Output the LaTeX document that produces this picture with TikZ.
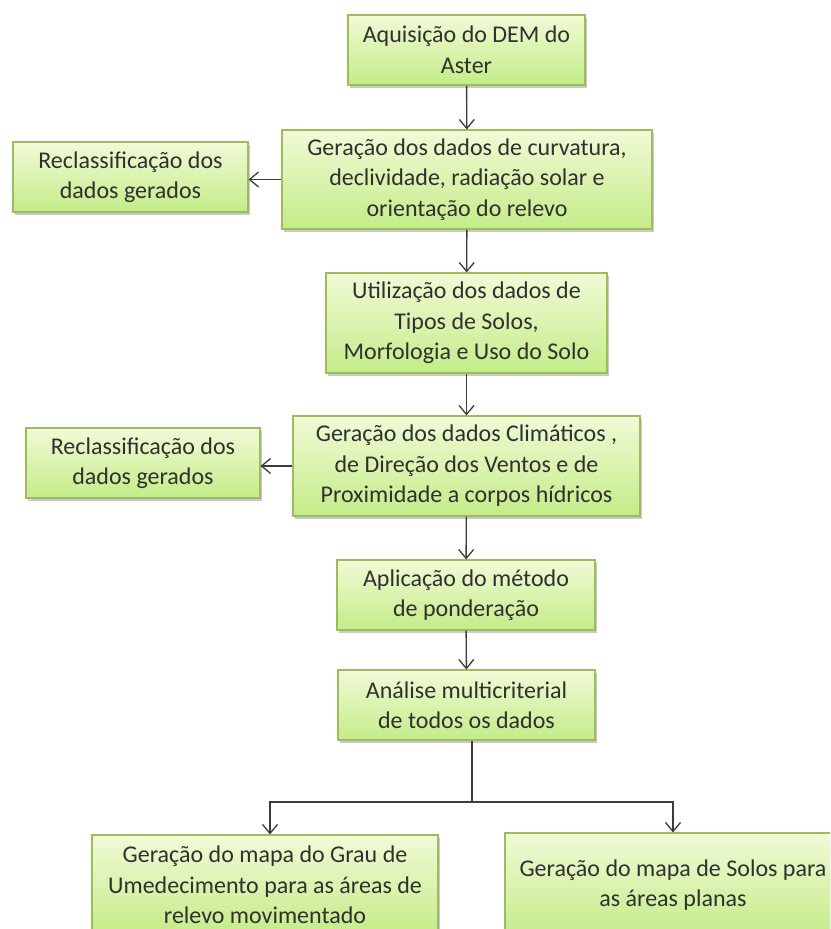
\documentclass[tikz,border=0pt]{standalone}
\usepackage{fontspec}
\setmainfont{Carlito}
\usetikzlibrary{arrows.meta,shadows}
\definecolor{boxtop}{HTML}{F1FAD6}
\definecolor{boxbot}{HTML}{C4EC88}
\definecolor{boxline}{HTML}{9CBC5E}
\definecolor{txt}{HTML}{303030}
\definecolor{arr}{HTML}{3C3C3C}
\tikzset{
  flowbox/.style={draw=boxline, line width=1.1pt, top color=boxtop, bottom color=boxbot,
    rectangle, align=center, inner sep=0pt, text=txt,
    font=\fontsize{24}{30.5}\selectfont,
    drop shadow={opacity=0.35, shadow xshift=2pt, shadow yshift=-2.5pt, fill=black!60}},
  conn/.style={draw=arr, line width=1.4pt, -{Straight Barb[length=9pt,width=15pt,line width=1.3pt]}},
  plainconn/.style={draw=arr, line width=1.4pt}
}
\begin{document}
\begin{tikzpicture}[x=1pt,y=-1pt]
\useasboundingbox (0,0) rectangle (830,929);
\clip (0,0) rectangle (830,929);
\node[flowbox, minimum width=237pt, minimum height=70pt] (a) at (466.5,50) {Aquisição do DEM do\\Aster};
\node[flowbox, minimum width=370pt, minimum height=99pt] (b) at (467,179.5) {Geração dos dados de curvatura,\\declividade, radiação solar e\\orientação do relevo};
\node[flowbox, minimum width=235pt, minimum height=70pt] (r1) at (130.5,177) {Reclassificação dos\\dados gerados};
\node[flowbox, minimum width=281pt, minimum height=100pt] (c) at (466.5,323) {Utilização dos dados de\\Tipos de Solos,\\Morfologia e Uso do Solo};
\node[flowbox, minimum width=347pt, minimum height=100pt] (d) at (466.5,466) {Geração dos dados Climáticos ,\\de Direção dos Ventos e de\\Proximidade a corpos hídricos};
\node[flowbox, minimum width=234pt, minimum height=70pt] (r2) at (143,463) {Reclassificação dos\\dados gerados};
\node[flowbox, minimum width=258pt, minimum height=70pt] (e) at (466,595) {Aplicação do método\\de ponderação};
\node[flowbox, minimum width=257pt, minimum height=70pt] (f) at (466.5,705) {Análise multicriterial\\de todos os dados};
\node[flowbox, minimum width=346pt, minimum height=100pt] (g) at (265,885) {Geração do mapa do Grau de\\Umedecimento para as áreas de\\relevo movimentado};
\node[flowbox, minimum width=336pt, minimum height=104pt] (h) at (673,885) {Geração do mapa de Solos para\\as áreas planas};
\coordinate (split) at (472,802);
\draw[conn] (a) -- (b);
\draw[conn] (b) -- (c);
\draw[conn] (c) -- (d);
\draw[conn] (d) -- (e);
\draw[conn] (e) -- (f);
\draw[conn] (b.west) -- (b.west -| r1.east);
\draw[conn] (d.west) -- (d.west -| r2.east);
\draw[plainconn] (f.south -| split) -- (split);
\draw[conn] (split) -| (g.north -| 270,0);
\draw[conn] (split) -| (h.north);
\end{tikzpicture}
\end{document}
